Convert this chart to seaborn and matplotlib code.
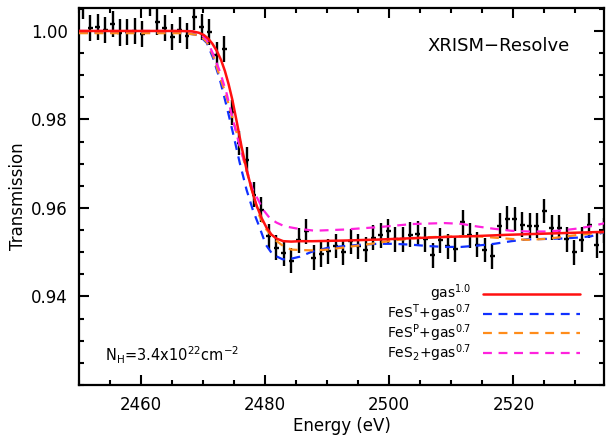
import numpy as np
import matplotlib
matplotlib.use('Agg')
import matplotlib.pyplot as plt
import seaborn as sns
from matplotlib.ticker import MultipleLocator

# Data points
energy = [2450.6, 2451.8, 2453.0, 2454.2, 2455.4, 2456.6, 2457.8, 2459.0, 2460.2, 2461.4,
          2462.6, 2463.8, 2465.0, 2466.2, 2467.4, 2468.6, 2469.8, 2471.0, 2472.2, 2473.4,
          2474.6, 2475.8, 2477.0, 2478.2, 2479.4, 2480.6, 2481.8, 2483.0, 2484.2, 2485.4,
          2486.6, 2487.8, 2489.0, 2490.2, 2491.4, 2492.6, 2493.8, 2495.0, 2496.2, 2497.4,
          2498.6, 2499.8, 2501.0, 2502.2, 2503.4, 2504.6, 2505.8, 2507.0, 2508.2, 2509.4,
          2510.6, 2511.8, 2513.0, 2514.2, 2515.4, 2516.6, 2517.8, 2519.0, 2520.2, 2521.4,
          2522.6, 2523.8, 2525.0, 2526.2, 2527.4, 2528.6, 2529.8, 2531.0, 2532.2, 2533.4,
          2534.6]
trans = [1.0058, 1.0007, 1.0009, 1.0002, 1.0016, 0.9996, 0.9998, 1.0000, 0.9993, 1.0063,
         1.0020, 1.0007, 0.9986, 1.0002, 0.9989, 1.0032, 1.0009, 0.9998, 0.9946, 0.9959,
         0.9816, 0.9747, 0.9709, 0.9630, 0.9596, 0.9536, 0.9510, 0.9498, 0.9481, 0.9527,
         0.9547, 0.9488, 0.9495, 0.9502, 0.9514, 0.9500, 0.9525, 0.9513, 0.9506, 0.9533,
         0.9538, 0.9547, 0.9529, 0.9529, 0.9540, 0.9542, 0.9529, 0.9493, 0.9527, 0.9513,
         0.9507, 0.9568, 0.9538, 0.9517, 0.9505, 0.9491, 0.9560, 0.9576, 0.9575, 0.9562,
         0.9560, 0.9560, 0.9593, 0.9555, 0.9555, 0.9529, 0.9500, 0.9528, 0.9561, 0.9516,
         0.9549]
trans_err = [0.0030, 0.0030, 0.0030, 0.0030, 0.0030, 0.0030, 0.0030, 0.0030, 0.0030, 0.0030,
             0.0030, 0.0030, 0.0030, 0.0030, 0.0030, 0.0030, 0.0029, 0.0029, 0.0029, 0.0029,
             0.0028, 0.0028, 0.0028, 0.0028, 0.0028, 0.0028, 0.0028, 0.0028, 0.0028, 0.0028,
             0.0028, 0.0028, 0.0028, 0.0028, 0.0028, 0.0028, 0.0028, 0.0028, 0.0028, 0.0028,
             0.0028, 0.0028, 0.0028, 0.0028, 0.0028, 0.0028, 0.0028, 0.0028, 0.0028, 0.0028,
             0.0028, 0.0028, 0.0028, 0.0028, 0.0028, 0.0028, 0.0028, 0.0028, 0.0028, 0.0028,
             0.0028, 0.0028, 0.0028, 0.0028, 0.0028, 0.0028, 0.0028, 0.0028, 0.0028, 0.0028,
             0.0028]
energy_err = 0.4

# Model curves
gas_e = [2450.0, 2466.2, 2468.3, 2469.3, 2470.1, 2470.8, 2471.5, 2472.2, 2472.9, 2473.5,
         2474.1, 2474.7, 2475.4, 2476.2, 2477.0, 2477.8, 2478.6, 2479.4, 2480.2, 2481.0,
         2481.8, 2482.9, 2484.2, 2485.6, 2487.6, 2493.1, 2498.4, 2503.7, 2509.7, 2513.4,
         2518.9, 2524.2, 2529.5, 2534.8]
gas_t = [1.0000, 1.0000, 0.9999, 0.9996, 0.9991, 0.9983, 0.9971, 0.9955, 0.9934, 0.9910,
         0.9880, 0.9845, 0.9796, 0.9738, 0.9687, 0.9643, 0.9606, 0.9578, 0.9556, 0.9540,
         0.9531, 0.9525, 0.9524, 0.9525, 0.95249, 0.95265, 0.95287, 0.95317, 0.95348, 0.95362,
         0.95393, 0.95416, 0.95439, 0.95461]

fest_e = [2450.0, 2466.2, 2468.7, 2469.5, 2470.6, 2471.6, 2472.7, 2473.8, 2474.8, 2475.9,
          2477.0, 2478.0, 2479.1, 2480.1, 2481.2, 2482.8, 2484.4, 2485.6, 2487.5, 2490.1,
          2492.8, 2495.5, 2498.1, 2500.8, 2503.6, 2506.2, 2508.9, 2511.6, 2514.2, 2516.9,
          2519.7, 2522.2, 2525.0, 2527.7, 2530.3, 2532.5, 2534.8]
fest_t = [0.9996, 0.9996, 0.9992, 0.9988, 0.9973, 0.9939, 0.9890, 0.9829, 0.9770, 0.9702,
          0.9641, 0.9596, 0.9556, 0.9517, 0.9495, 0.9484, 0.9486, 0.9490, 0.9501, 0.9510,
          0.9514, 0.9517, 0.9519, 0.9519, 0.9517, 0.9514, 0.9512, 0.9512, 0.9515, 0.9519,
          0.9525, 0.9529, 0.9530, 0.9531, 0.9533, 0.9536, 0.9546]

fesp_e = [2450.0, 2467.1, 2469.5, 2470.6, 2471.6, 2472.7, 2473.5, 2474.3, 2475.4, 2476.4,
          2477.5, 2478.3, 2479.1, 2480.2, 2481.5, 2482.9, 2484.2, 2485.6, 2488.0, 2490.1,
          2492.8, 2495.5, 2498.1, 2500.8, 2503.6, 2506.2, 2508.9, 2511.6, 2514.2, 2516.9,
          2519.7, 2522.2, 2525.0, 2527.7, 2530.3, 2532.5, 2534.8]
fesp_t = [0.9995, 0.9995, 0.9990, 0.9975, 0.9945, 0.9896, 0.9864, 0.9825, 0.9770, 0.9716,
          0.9657, 0.9619, 0.9581, 0.9551, 0.9529, 0.9514, 0.9506, 0.9505, 0.9504, 0.9506,
          0.9511, 0.9516, 0.9521, 0.9527, 0.9531, 0.9534, 0.9535, 0.9536, 0.9536, 0.9533,
          0.9530, 0.9528, 0.9530, 0.9534, 0.9539, 0.9542, 0.9546]

fes2_e = [2450.0, 2467.9, 2469.5, 2470.6, 2471.6, 2472.7, 2473.8, 2474.8, 2475.9, 2477.0,
          2478.0, 2478.85, 2479.65, 2480.7, 2481.8, 2483.1, 2484.5, 2485.6, 2488.0, 2492.8,
          2498.4, 2503.7, 2508.9, 2511.6, 2514.2, 2516.9, 2519.7, 2522.6, 2525.0, 2527.7,
          2530.3, 2532.5, 2534.8]
fes2_t = [1.0000, 1.0000, 0.99948, 0.99797, 0.99481, 0.99087, 0.98580, 0.97993, 0.97396, 0.96866,
          0.96415, 0.96189, 0.95964, 0.95777, 0.95671, 0.95587, 0.95551, 0.95524, 0.95486, 0.95513,
          0.95569, 0.95637, 0.95659, 0.95641, 0.95581, 0.95529, 0.95484, 0.95468, 0.95468, 0.95490,
          0.95535, 0.95587, 0.95659]

sns.set_style('ticks')
plt.rcParams['font.family'] = ['DejaVu Sans']
plt.rcParams['mathtext.default'] = 'regular'
plt.rcParams['text.color'] = 'black'
plt.rcParams['axes.labelcolor'] = 'black'

fig = plt.figure(figsize=(6.06, 4.42), dpi=100)
ax = fig.add_axes([0.1304, 0.129, 0.8663, 0.853])

ax.errorbar(energy, trans, yerr=trans_err, xerr=energy_err, fmt='none',
            ecolor='black', elinewidth=1.7, capsize=0, zorder=2)

dash = (0, (4, 3))
sns.lineplot(x=gas_e, y=gas_t, ax=ax, color='#ff1010', lw=1.8,
             label='gas$^{1.0}$', zorder=6)
sns.lineplot(x=fest_e, y=fest_t, ax=ax, color='#1030ff', lw=1.6, linestyle=dash,
             label='FeS$^{T}$+gas$^{0.7}$', zorder=3)
sns.lineplot(x=fesp_e, y=fesp_t, ax=ax, color='#ff8c1a', lw=1.6, linestyle=dash,
             label='FeS$^{P}$+gas$^{0.7}$', zorder=4)
sns.lineplot(x=fes2_e, y=fes2_t, ax=ax, color='#ff22dd', lw=1.6, linestyle=dash,
             label='FeS$_{2}$+gas$^{0.7}$', zorder=5)

ax.set_xlim(2450, 2534.6)
ax.set_ylim(0.92, 1.0052)
ax.xaxis.set_major_locator(MultipleLocator(20))
ax.xaxis.set_minor_locator(MultipleLocator(5))
ax.yaxis.set_minor_locator(MultipleLocator(0.005))
ax.set_yticks([0.94, 0.96, 0.98, 1.00])
ax.set_yticklabels(['0.94', '0.96', '0.98', '1.00'])
ax.tick_params(which='both', direction='in', top=True, right=True, width=1.5,
               labelsize=12, colors='black')
ax.tick_params(which='major', length=7, pad=8)
ax.tick_params(which='minor', length=3.5)
for s in ax.spines.values():
    s.set_linewidth(1.6)
    s.set_color('black')

ax.set_xlabel('Energy (eV)', fontsize=12, labelpad=2)
ax.set_ylabel('Transmission', fontsize=12, labelpad=3)

ax.text(0.935, 0.9, 'XRISM\u2212Resolve', transform=ax.transAxes, fontsize=13,
        ha='right', va='center')
ax.text(0.05, 0.08, 'N$_{H}$=3.4x10$^{22}$cm$^{-2}$', transform=ax.transAxes,
        fontsize=10.5, ha='left', va='center')

leg = ax.legend(loc='lower right', bbox_to_anchor=(0.955, 0.055), frameon=False,
                markerfirst=False, fontsize=10, handlelength=7.0, handletextpad=0.85,
                labelspacing=-0.12, borderpad=0, borderaxespad=0)

fig.savefig('out.png', dpi=100)
